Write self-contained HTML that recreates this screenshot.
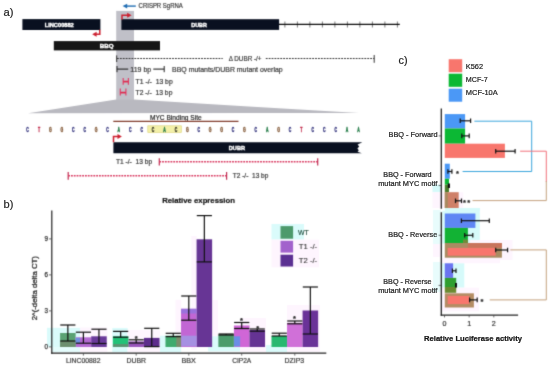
<!DOCTYPE html>
<html><head><meta charset="utf-8"><title>Figure</title>
<style>
html,body{margin:0;padding:0;background:#fff;}
body{width:550px;height:367px;overflow:hidden;font-family:"Liberation Sans",sans-serif;}
svg{display:block;will-change:transform;}
text{font-family:"Liberation Sans",sans-serif;white-space:pre;}
</style></head><body>
<svg width="550" height="367" viewBox="0 0 550 367">
<defs><filter id="soft" x="0" y="0" width="550" height="367" filterUnits="userSpaceOnUse" color-interpolation-filters="sRGB"><feConvolveMatrix order="3" kernelMatrix="0.04 0.2 0.04 0.2 1 0.2 0.04 0.2 0.04" edgeMode="duplicate" preserveAlpha="true"/></filter></defs>
<g filter="url(#soft)">
<rect x="0" y="0" width="550" height="367" fill="#fff"/>
<rect x="116.20" y="10.90" width="17.80" height="89.10" fill="#c0c0c8" />
<polygon points="116.2,99.6 134.0,99.6 359,113.0 28,113.3 " fill="#b9b9c0"/>
<line x1="126.00" y1="6.10" x2="135.80" y2="6.10" stroke="#1f6db3" stroke-width="1.4" />
<polygon points="122.6,6.1 127.2,3.8 127.2,8.4" fill="#1f6db3"/>
<text x="138.60" y="7.80" font-size="6.3" fill="#3a3a3a" text-anchor="start" textLength="44.20" lengthAdjust="spacingAndGlyphs"  stroke="#3a3a3a" stroke-width="0.2">CRISPR SgRNA</text>
<rect x="22.40" y="19.10" width="78.00" height="10.90" fill="#091020" />
<text x="44.70" y="26.70" font-size="5.6" fill="#fff" text-anchor="start" font-weight="bold" textLength="29.10" lengthAdjust="spacingAndGlyphs"  stroke="#fff" stroke-width="0.4">LINC00882</text>
<polyline points="99.8,29.8 99.8,34.3 95.5,34.3" fill="none" stroke="#cc1f2e" stroke-width="1.5"/>
<polygon points="92.2,34.3 96.6,31.8 96.6,36.8" fill="#cc1f2e"/>
<rect x="53.80" y="41.10" width="106.20" height="9.30" fill="#161616" />
<text x="99.80" y="47.70" font-size="6.0" fill="#fff" text-anchor="start" font-weight="bold" textLength="13.80" lengthAdjust="spacingAndGlyphs"  stroke="#fff" stroke-width="0.4">BBQ</text>
<rect x="121.40" y="19.20" width="157.70" height="10.70" fill="#091020" />
<text x="191.30" y="26.70" font-size="5.6" fill="#fff" text-anchor="start" font-weight="bold" textLength="15.60" lengthAdjust="spacingAndGlyphs"  stroke="#fff" stroke-width="0.4">DUBR</text>
<polyline points="122.0,19.5 122.0,15.2 128.0,15.2" fill="none" stroke="#cc1f2e" stroke-width="1.5"/>
<polygon points="131.6,15.2 127.2,12.7 127.2,17.7" fill="#cc1f2e"/>
<line x1="284.90" y1="21.50" x2="284.90" y2="27.50" stroke="#7a7a7a" stroke-width="1.0" />
<line x1="297.40" y1="21.50" x2="297.40" y2="27.50" stroke="#7a7a7a" stroke-width="1.0" />
<line x1="309.90" y1="21.50" x2="309.90" y2="27.50" stroke="#7a7a7a" stroke-width="1.0" />
<line x1="322.40" y1="21.50" x2="322.40" y2="27.50" stroke="#7a7a7a" stroke-width="1.0" />
<line x1="334.90" y1="21.50" x2="334.90" y2="27.50" stroke="#7a7a7a" stroke-width="1.0" />
<line x1="347.40" y1="21.50" x2="347.40" y2="27.50" stroke="#7a7a7a" stroke-width="1.0" />
<line x1="359.90" y1="21.50" x2="359.90" y2="27.50" stroke="#7a7a7a" stroke-width="1.0" />
<line x1="372.40" y1="21.50" x2="372.40" y2="27.50" stroke="#7a7a7a" stroke-width="1.0" />
<line x1="384.90" y1="21.50" x2="384.90" y2="27.50" stroke="#7a7a7a" stroke-width="1.0" />
<line x1="397.40" y1="21.50" x2="397.40" y2="27.50" stroke="#7a7a7a" stroke-width="1.0" />
<line x1="279.00" y1="24.30" x2="399.80" y2="24.30" stroke="#0a0a0a" stroke-width="1.15" />
<line x1="116.70" y1="55.40" x2="116.70" y2="62.00" stroke="#333" stroke-width="1.0" />
<line x1="117.00" y1="58.50" x2="222.70" y2="58.50" stroke="#333" stroke-width="1.1" stroke-dasharray="1.8,1.1"/>
<text x="228.70" y="60.80" font-size="6.5" fill="#3a3a3a" text-anchor="start" textLength="32.80" lengthAdjust="spacingAndGlyphs"  stroke="#3a3a3a" stroke-width="0.2">&#916; DUBR -/+</text>
<line x1="265.80" y1="58.50" x2="374.20" y2="58.50" stroke="#333" stroke-width="1.1" stroke-dasharray="1.8,1.1"/>
<line x1="374.20" y1="55.00" x2="374.20" y2="62.80" stroke="#333" stroke-width="1.0" />
<line x1="117.00" y1="66.00" x2="117.00" y2="72.20" stroke="#222" stroke-width="1.0" />
<line x1="117.00" y1="69.10" x2="128.20" y2="69.10" stroke="#222" stroke-width="1.1" />
<text x="130.30" y="72.00" font-size="6.4" fill="#3a3a3a" text-anchor="start" textLength="20.90" lengthAdjust="spacingAndGlyphs"  stroke="#3a3a3a" stroke-width="0.2">119 bp</text>
<line x1="153.30" y1="69.10" x2="164.20" y2="69.10" stroke="#222" stroke-width="1.1" />
<line x1="164.20" y1="66.00" x2="164.20" y2="72.20" stroke="#222" stroke-width="1.0" />
<text x="172.10" y="72.00" font-size="6.5" fill="#3a3a3a" text-anchor="start" textLength="110.60" lengthAdjust="spacingAndGlyphs"  stroke="#3a3a3a" stroke-width="0.2">BBQ mutants/DUBR mutant overlap</text>
<line x1="123.20" y1="78.00" x2="123.20" y2="84.80" stroke="#e0406a" stroke-width="1.2" />
<line x1="128.40" y1="78.00" x2="128.40" y2="84.80" stroke="#e0406a" stroke-width="1.2" />
<line x1="123.20" y1="81.60" x2="128.40" y2="81.60" stroke="#e0284c" stroke-width="1.7" />
<line x1="120.30" y1="88.60" x2="120.30" y2="95.60" stroke="#e0406a" stroke-width="1.2" />
<line x1="125.90" y1="88.60" x2="125.90" y2="95.60" stroke="#e0406a" stroke-width="1.2" />
<line x1="120.30" y1="92.60" x2="125.90" y2="92.60" stroke="#e0284c" stroke-width="1.7" />
<text x="135.60" y="83.60" font-size="6.8" fill="#3a3a3a" text-anchor="start" textLength="37.10" lengthAdjust="spacingAndGlyphs"  stroke="#3a3a3a" stroke-width="0.2">T1 -/-  13 bp</text>
<text x="135.60" y="95.30" font-size="6.8" fill="#3a3a3a" text-anchor="start" textLength="36.80" lengthAdjust="spacingAndGlyphs"  stroke="#3a3a3a" stroke-width="0.2">T2 -/-  13 bp</text>
<text x="149.90" y="119.50" font-size="6.9" fill="#262626" text-anchor="start" textLength="51.90" lengthAdjust="spacingAndGlyphs"  stroke="#262626" stroke-width="0.2">MYC Binding Site</text>
<line x1="113.30" y1="121.40" x2="238.50" y2="121.40" stroke="#823c2c" stroke-width="1.3" />
<rect x="147.8" y="125.8" width="33.6" height="6.8" fill="#f3f0a8" stroke="#dcd27a" stroke-width="0.6"/>
<text x="0" y="0" font-size="7" font-weight="bold" fill="#35357e" stroke="#35357e" stroke-width="0.5" text-anchor="middle" transform="translate(27.60,131.8) scale(0.5,1)">C</text>
<text x="0" y="0" font-size="7" font-weight="bold" fill="#c02848" stroke="#c02848" stroke-width="0.5" text-anchor="middle" transform="translate(39.01,131.8) scale(0.5,1)">T</text>
<text x="0" y="0" font-size="7" font-weight="bold" fill="#8a6242" stroke="#8a6242" stroke-width="0.5" text-anchor="middle" transform="translate(50.42,131.8) scale(0.5,1)">G</text>
<text x="0" y="0" font-size="7" font-weight="bold" fill="#8a6242" stroke="#8a6242" stroke-width="0.5" text-anchor="middle" transform="translate(61.83,131.8) scale(0.5,1)">G</text>
<text x="0" y="0" font-size="7" font-weight="bold" fill="#35357e" stroke="#35357e" stroke-width="0.5" text-anchor="middle" transform="translate(73.24,131.8) scale(0.5,1)">C</text>
<text x="0" y="0" font-size="7" font-weight="bold" fill="#35357e" stroke="#35357e" stroke-width="0.5" text-anchor="middle" transform="translate(84.65,131.8) scale(0.5,1)">C</text>
<text x="0" y="0" font-size="7" font-weight="bold" fill="#8a6242" stroke="#8a6242" stroke-width="0.5" text-anchor="middle" transform="translate(96.06,131.8) scale(0.5,1)">G</text>
<text x="0" y="0" font-size="7" font-weight="bold" fill="#35357e" stroke="#35357e" stroke-width="0.5" text-anchor="middle" transform="translate(107.47,131.8) scale(0.5,1)">C</text>
<text x="0" y="0" font-size="7" font-weight="bold" fill="#217a45" stroke="#217a45" stroke-width="0.5" text-anchor="middle" transform="translate(118.88,131.8) scale(0.5,1)">A</text>
<text x="0" y="0" font-size="7" font-weight="bold" fill="#35357e" stroke="#35357e" stroke-width="0.5" text-anchor="middle" transform="translate(130.29,131.8) scale(0.5,1)">C</text>
<text x="0" y="0" font-size="7" font-weight="bold" fill="#35357e" stroke="#35357e" stroke-width="0.5" text-anchor="middle" transform="translate(141.70,131.8) scale(0.5,1)">C</text>
<text x="0" y="0" font-size="7" font-weight="bold" fill="#3a3a2a" stroke="#3a3a2a" stroke-width="0.5" text-anchor="middle" transform="translate(153.11,131.8) scale(0.5,1)">C</text>
<text x="0" y="0" font-size="7" font-weight="bold" fill="#217a45" stroke="#217a45" stroke-width="0.5" text-anchor="middle" transform="translate(164.52,131.8) scale(0.5,1)">A</text>
<text x="0" y="0" font-size="7" font-weight="bold" fill="#3a3a2a" stroke="#3a3a2a" stroke-width="0.5" text-anchor="middle" transform="translate(175.93,131.8) scale(0.5,1)">C</text>
<text x="0" y="0" font-size="7" font-weight="bold" fill="#8a6242" stroke="#8a6242" stroke-width="0.5" text-anchor="middle" transform="translate(187.34,131.8) scale(0.5,1)">G</text>
<text x="0" y="0" font-size="7" font-weight="bold" fill="#35357e" stroke="#35357e" stroke-width="0.5" text-anchor="middle" transform="translate(198.75,131.8) scale(0.5,1)">C</text>
<text x="0" y="0" font-size="7" font-weight="bold" fill="#8a6242" stroke="#8a6242" stroke-width="0.5" text-anchor="middle" transform="translate(210.16,131.8) scale(0.5,1)">G</text>
<text x="0" y="0" font-size="7" font-weight="bold" fill="#8a6242" stroke="#8a6242" stroke-width="0.5" text-anchor="middle" transform="translate(221.57,131.8) scale(0.5,1)">G</text>
<text x="0" y="0" font-size="7" font-weight="bold" fill="#35357e" stroke="#35357e" stroke-width="0.5" text-anchor="middle" transform="translate(232.98,131.8) scale(0.5,1)">C</text>
<text x="0" y="0" font-size="7" font-weight="bold" fill="#8a6242" stroke="#8a6242" stroke-width="0.5" text-anchor="middle" transform="translate(244.39,131.8) scale(0.5,1)">G</text>
<text x="0" y="0" font-size="7" font-weight="bold" fill="#35357e" stroke="#35357e" stroke-width="0.5" text-anchor="middle" transform="translate(255.80,131.8) scale(0.5,1)">C</text>
<text x="0" y="0" font-size="7" font-weight="bold" fill="#217a45" stroke="#217a45" stroke-width="0.5" text-anchor="middle" transform="translate(267.21,131.8) scale(0.5,1)">A</text>
<text x="0" y="0" font-size="7" font-weight="bold" fill="#8a6242" stroke="#8a6242" stroke-width="0.5" text-anchor="middle" transform="translate(278.62,131.8) scale(0.5,1)">G</text>
<text x="0" y="0" font-size="7" font-weight="bold" fill="#35357e" stroke="#35357e" stroke-width="0.5" text-anchor="middle" transform="translate(290.03,131.8) scale(0.5,1)">C</text>
<text x="0" y="0" font-size="7" font-weight="bold" fill="#c02848" stroke="#c02848" stroke-width="0.5" text-anchor="middle" transform="translate(301.44,131.8) scale(0.5,1)">T</text>
<text x="0" y="0" font-size="7" font-weight="bold" fill="#35357e" stroke="#35357e" stroke-width="0.5" text-anchor="middle" transform="translate(312.85,131.8) scale(0.5,1)">C</text>
<text x="0" y="0" font-size="7" font-weight="bold" fill="#35357e" stroke="#35357e" stroke-width="0.5" text-anchor="middle" transform="translate(324.26,131.8) scale(0.5,1)">C</text>
<text x="0" y="0" font-size="7" font-weight="bold" fill="#35357e" stroke="#35357e" stroke-width="0.5" text-anchor="middle" transform="translate(335.67,131.8) scale(0.5,1)">C</text>
<text x="0" y="0" font-size="7" font-weight="bold" fill="#217a45" stroke="#217a45" stroke-width="0.5" text-anchor="middle" transform="translate(347.08,131.8) scale(0.5,1)">A</text>
<text x="0" y="0" font-size="7" font-weight="bold" fill="#217a45" stroke="#217a45" stroke-width="0.5" text-anchor="middle" transform="translate(358.49,131.8) scale(0.5,1)">A</text>
<polygon points="113.4,142.2 362.4,142.2 357.6,144.6 359.2,146.5 357.4,148.4 358.8,150.2 357.6,151.8 361.8,153.2 113.4,153.2" fill="#091020"/>
<text x="228.80" y="149.90" font-size="5.6" fill="#fff" text-anchor="start" font-weight="bold" textLength="16.20" lengthAdjust="spacingAndGlyphs"  stroke="#fff" stroke-width="0.4">DUBR</text>
<polyline points="113.5,142.3 113.5,136.4 118.2,136.4" fill="none" stroke="#cc1f2e" stroke-width="1.5"/>
<polygon points="121.9,136.4 117.5,133.9 117.5,138.9" fill="#cc1f2e"/>
<text x="116.00" y="164.10" font-size="6.6" fill="#3a3a3a" text-anchor="start" textLength="36.10" lengthAdjust="spacingAndGlyphs"  stroke="#3a3a3a" stroke-width="0.2">T1 -/-  13 bp</text>
<line x1="159.30" y1="158.30" x2="159.30" y2="165.50" stroke="#c02a50" stroke-width="1.2" />
<line x1="159.30" y1="161.70" x2="317.70" y2="161.70" stroke="#d8365e" stroke-width="1.4" stroke-dasharray="1.8,1"/>
<line x1="317.70" y1="158.30" x2="317.70" y2="165.50" stroke="#c02a50" stroke-width="1.2" />
<line x1="68.20" y1="172.00" x2="68.20" y2="179.80" stroke="#c02a50" stroke-width="1.2" />
<line x1="68.20" y1="175.80" x2="226.60" y2="175.80" stroke="#d8365e" stroke-width="1.4" stroke-dasharray="1.8,1"/>
<line x1="226.60" y1="172.00" x2="226.60" y2="179.80" stroke="#c02a50" stroke-width="1.2" />
<text x="232.70" y="178.20" font-size="6.6" fill="#3a3a3a" text-anchor="start" textLength="35.70" lengthAdjust="spacingAndGlyphs"  stroke="#3a3a3a" stroke-width="0.2">T2 -/-  13 bp</text>
<text x="162.20" y="202.90" font-size="7.7" fill="#111" text-anchor="start" font-weight="bold" textLength="72.70" lengthAdjust="spacingAndGlyphs"  stroke="#111" stroke-width="0.2">Relative expression</text>
<rect x="47.00" y="327.80" width="33.00" height="19.20" fill="#dafbfb" />
<rect x="80.00" y="327.50" width="27.30" height="19.50" fill="#fef5fe" />
<rect x="52.00" y="347.00" width="28.00" height="5.20" fill="#e4fcfc" />
<rect x="80.00" y="347.00" width="27.30" height="5.20" fill="#fef5fe" />
<rect x="112.30" y="328.00" width="15.30" height="24.20" fill="#dafbfb" />
<rect x="127.60" y="330.00" width="32.40" height="22.20" fill="#fef5fe" />
<rect x="160.00" y="335.70" width="21.20" height="16.50" fill="#dafbfb" />
<rect x="175.50" y="299.80" width="5.70" height="35.90" fill="#fef5fe" />
<rect x="191.30" y="236.00" width="5.40" height="114.00" fill="#fef5fe" />
<rect x="212.50" y="300.00" width="5.50" height="50.00" fill="#fef5fe" />
<rect x="208.10" y="336.30" width="32.00" height="15.10" fill="#dafbfb" />
<rect x="240.10" y="318.00" width="25.90" height="34.00" fill="#fef5fe" />
<rect x="266.00" y="345.00" width="21.00" height="7.00" fill="#dafbfb" />
<rect x="287.00" y="305.00" width="33.00" height="47.00" fill="#fef5fe" />
<rect x="60.08" y="333.00" width="15.55" height="14.00" fill="#5aa274" />
<rect x="75.62" y="337.30" width="15.55" height="9.70" fill="#b46ad2" />
<rect x="91.18" y="336.30" width="15.55" height="10.70" fill="#6a3a9a" />
<rect x="112.87" y="336.30" width="15.55" height="10.70" fill="#22c278" />
<rect x="128.42" y="341.40" width="15.55" height="5.60" fill="#9a56bc" />
<rect x="143.97" y="337.90" width="15.55" height="9.10" fill="#5e2d8c" />
<rect x="165.48" y="335.70" width="15.55" height="11.30" fill="#3fab6e" />
<rect x="181.03" y="308.80" width="15.55" height="38.20" fill="#c266d4" />
<rect x="196.58" y="239.30" width="15.55" height="107.70" fill="#673595" />
<rect x="218.38" y="334.50" width="15.55" height="12.50" fill="#4b9c6c" />
<rect x="233.93" y="325.50" width="15.55" height="21.50" fill="#d066d6" />
<rect x="249.47" y="330.00" width="15.55" height="17.00" fill="#653393" />
<rect x="271.48" y="336.00" width="15.55" height="11.00" fill="#28b870" />
<rect x="287.03" y="322.90" width="15.55" height="24.10" fill="#d070d8" />
<rect x="302.58" y="310.50" width="15.55" height="36.50" fill="#6a3298" />
<rect x="60.15" y="341.00" width="15.55" height="6.00" fill="#6c8f6f" />
<rect x="112.95" y="344.00" width="15.55" height="3.00" fill="#5a9472" />
<rect x="176.30" y="335.70" width="4.90" height="11.30" fill="#7c8c6c" />
<rect x="75.60" y="337.90" width="4.40" height="5.40" fill="#6f8fe0" />
<rect x="234.00" y="336.30" width="6.10" height="10.10" fill="#6a8ee6" />
<rect x="181.20" y="335.70" width="15.50" height="10.60" fill="#a690e2" />
<rect x="181.20" y="308.80" width="15.50" height="4.70" fill="#9a72dc" />
<line x1="60.28" y1="325.00" x2="75.42" y2="325.00" stroke="#111" stroke-width="1.2" />
<line x1="60.28" y1="341.00" x2="75.42" y2="341.00" stroke="#111" stroke-width="1.2" />
<line x1="67.85" y1="325.00" x2="67.85" y2="341.00" stroke="#111" stroke-width="1.2" />
<line x1="75.83" y1="332.20" x2="90.97" y2="332.20" stroke="#111" stroke-width="1.2" />
<line x1="75.83" y1="343.20" x2="90.97" y2="343.20" stroke="#111" stroke-width="1.2" />
<line x1="83.40" y1="332.20" x2="83.40" y2="343.20" stroke="#111" stroke-width="1.2" />
<line x1="91.38" y1="329.20" x2="106.53" y2="329.20" stroke="#111" stroke-width="1.2" />
<line x1="91.38" y1="343.50" x2="106.53" y2="343.50" stroke="#111" stroke-width="1.2" />
<line x1="98.95" y1="329.20" x2="98.95" y2="343.50" stroke="#111" stroke-width="1.2" />
<line x1="113.07" y1="331.40" x2="128.22" y2="331.40" stroke="#111" stroke-width="1.2" />
<line x1="113.07" y1="337.20" x2="128.22" y2="337.20" stroke="#111" stroke-width="1.2" />
<line x1="120.65" y1="331.40" x2="120.65" y2="337.20" stroke="#111" stroke-width="1.2" />
<line x1="128.62" y1="339.80" x2="143.78" y2="339.80" stroke="#111" stroke-width="1.2" />
<line x1="128.62" y1="343.00" x2="143.78" y2="343.00" stroke="#111" stroke-width="1.2" />
<line x1="136.20" y1="339.80" x2="136.20" y2="343.00" stroke="#111" stroke-width="1.2" />
<line x1="144.17" y1="328.30" x2="159.33" y2="328.30" stroke="#111" stroke-width="1.2" />
<line x1="144.17" y1="346.60" x2="159.33" y2="346.60" stroke="#111" stroke-width="1.2" />
<line x1="151.75" y1="328.30" x2="151.75" y2="346.60" stroke="#111" stroke-width="1.2" />
<line x1="165.68" y1="333.30" x2="180.83" y2="333.30" stroke="#111" stroke-width="1.2" />
<line x1="165.68" y1="336.60" x2="180.83" y2="336.60" stroke="#111" stroke-width="1.2" />
<line x1="173.25" y1="333.30" x2="173.25" y2="336.60" stroke="#111" stroke-width="1.2" />
<line x1="181.23" y1="296.00" x2="196.38" y2="296.00" stroke="#111" stroke-width="1.2" />
<line x1="181.23" y1="320.20" x2="196.38" y2="320.20" stroke="#111" stroke-width="1.2" />
<line x1="188.80" y1="296.00" x2="188.80" y2="320.20" stroke="#111" stroke-width="1.2" />
<line x1="196.78" y1="215.60" x2="211.93" y2="215.60" stroke="#111" stroke-width="1.2" />
<line x1="196.78" y1="261.90" x2="211.93" y2="261.90" stroke="#111" stroke-width="1.2" />
<line x1="204.35" y1="215.60" x2="204.35" y2="261.90" stroke="#111" stroke-width="1.2" />
<line x1="218.57" y1="334.00" x2="233.73" y2="334.00" stroke="#111" stroke-width="1.2" />
<line x1="218.57" y1="335.00" x2="233.73" y2="335.00" stroke="#111" stroke-width="1.2" />
<line x1="226.15" y1="334.00" x2="226.15" y2="335.00" stroke="#111" stroke-width="1.2" />
<line x1="234.12" y1="322.50" x2="249.28" y2="322.50" stroke="#111" stroke-width="1.2" />
<line x1="234.12" y1="328.50" x2="249.28" y2="328.50" stroke="#111" stroke-width="1.2" />
<line x1="241.70" y1="322.50" x2="241.70" y2="328.50" stroke="#111" stroke-width="1.2" />
<line x1="249.67" y1="329.00" x2="264.82" y2="329.00" stroke="#111" stroke-width="1.2" />
<line x1="249.67" y1="331.20" x2="264.82" y2="331.20" stroke="#111" stroke-width="1.2" />
<line x1="257.25" y1="329.00" x2="257.25" y2="331.20" stroke="#111" stroke-width="1.2" />
<line x1="271.68" y1="333.20" x2="286.83" y2="333.20" stroke="#111" stroke-width="1.2" />
<line x1="271.68" y1="336.00" x2="286.83" y2="336.00" stroke="#111" stroke-width="1.2" />
<line x1="279.25" y1="333.20" x2="279.25" y2="336.00" stroke="#111" stroke-width="1.2" />
<line x1="287.23" y1="321.00" x2="302.38" y2="321.00" stroke="#111" stroke-width="1.2" />
<line x1="287.23" y1="323.80" x2="302.38" y2="323.80" stroke="#111" stroke-width="1.2" />
<line x1="294.80" y1="321.00" x2="294.80" y2="323.80" stroke="#111" stroke-width="1.2" />
<line x1="302.78" y1="287.00" x2="317.93" y2="287.00" stroke="#111" stroke-width="1.2" />
<line x1="302.78" y1="334.00" x2="317.93" y2="334.00" stroke="#111" stroke-width="1.2" />
<line x1="310.35" y1="287.00" x2="310.35" y2="334.00" stroke="#111" stroke-width="1.2" />
<text x="136.30" y="341.07" font-size="7.5" fill="#2a2a2a" text-anchor="middle" font-weight="bold"  stroke="#2a2a2a" stroke-width="0.25">*</text>
<text x="241.50" y="323.47" font-size="7.5" fill="#2a2a2a" text-anchor="middle" font-weight="bold"  stroke="#2a2a2a" stroke-width="0.25">*</text>
<text x="257.70" y="331.27" font-size="7.5" fill="#2a2a2a" text-anchor="middle" font-weight="bold"  stroke="#2a2a2a" stroke-width="0.25">*</text>
<text x="294.40" y="321.07" font-size="7.5" fill="#2a2a2a" text-anchor="middle" font-weight="bold"  stroke="#2a2a2a" stroke-width="0.25">*</text>
<line x1="51.80" y1="210.40" x2="51.80" y2="353.80" stroke="#222" stroke-width="1.2" />
<line x1="51.20" y1="353.20" x2="326.30" y2="353.20" stroke="#222" stroke-width="1.2" />
<line x1="49.00" y1="346.90" x2="51.80" y2="346.90" stroke="#444" stroke-width="0.8" />
<text x="47.90" y="349.10" font-size="6.3" fill="#333" text-anchor="end"  stroke="#333" stroke-width="0.25">0</text>
<line x1="49.00" y1="310.90" x2="51.80" y2="310.90" stroke="#444" stroke-width="0.8" />
<text x="47.90" y="313.10" font-size="6.3" fill="#333" text-anchor="end"  stroke="#333" stroke-width="0.25">3</text>
<line x1="49.00" y1="274.90" x2="51.80" y2="274.90" stroke="#444" stroke-width="0.8" />
<text x="47.90" y="277.10" font-size="6.3" fill="#333" text-anchor="end"  stroke="#333" stroke-width="0.25">6</text>
<line x1="49.00" y1="238.90" x2="51.80" y2="238.90" stroke="#444" stroke-width="0.8" />
<text x="47.90" y="241.10" font-size="6.3" fill="#333" text-anchor="end"  stroke="#333" stroke-width="0.25">9</text>
<line x1="83.40" y1="353.30" x2="83.40" y2="355.60" stroke="#444" stroke-width="0.8" />
<line x1="136.20" y1="353.30" x2="136.20" y2="355.60" stroke="#444" stroke-width="0.8" />
<line x1="188.80" y1="353.30" x2="188.80" y2="355.60" stroke="#444" stroke-width="0.8" />
<line x1="241.70" y1="353.30" x2="241.70" y2="355.60" stroke="#444" stroke-width="0.8" />
<line x1="294.80" y1="353.30" x2="294.80" y2="355.60" stroke="#444" stroke-width="0.8" />
<text x="65.90" y="363.20" font-size="6.9" fill="#3a3a3a" text-anchor="start" textLength="34.60" lengthAdjust="spacingAndGlyphs"  stroke="#3a3a3a" stroke-width="0.2">LINC00882</text>
<text x="126.40" y="363.20" font-size="6.9" fill="#3a3a3a" text-anchor="start" textLength="19.60" lengthAdjust="spacingAndGlyphs"  stroke="#3a3a3a" stroke-width="0.2">DUBR</text>
<text x="181.50" y="363.20" font-size="6.9" fill="#3a3a3a" text-anchor="start" textLength="14.40" lengthAdjust="spacingAndGlyphs"  stroke="#3a3a3a" stroke-width="0.2">BBX</text>
<text x="232.20" y="363.20" font-size="6.9" fill="#3a3a3a" text-anchor="start" textLength="19.10" lengthAdjust="spacingAndGlyphs"  stroke="#3a3a3a" stroke-width="0.2">CIP2A</text>
<text x="284.50" y="363.20" font-size="6.9" fill="#3a3a3a" text-anchor="start" textLength="19.70" lengthAdjust="spacingAndGlyphs"  stroke="#3a3a3a" stroke-width="0.2">DZIP3</text>
<text x="0" y="0" font-size="7.3" fill="#2e2e2e" stroke="#2e2e2e" stroke-width="0.28" text-anchor="middle" textLength="64.3" lengthAdjust="spacingAndGlyphs" transform="translate(37.0,288.2) rotate(-90)">2^(-delta delta CT)</text>
<rect x="271.50" y="224.00" width="32.50" height="15.60" fill="#dafbfb" />
<rect x="271.50" y="239.60" width="47.50" height="27.70" fill="#fef5fe" />
<rect x="280.50" y="226.10" width="12.60" height="12.60" fill="#4d9a6c" />
<rect x="280.50" y="240.80" width="12.60" height="11.80" fill="#a262cc" />
<rect x="280.50" y="254.70" width="12.60" height="11.80" fill="#5b3092" />
<text x="298.00" y="235.30" font-size="7.1" fill="#123e2c" text-anchor="start" textLength="10.80" lengthAdjust="spacingAndGlyphs"  stroke="#123e2c" stroke-width="0.1">WT</text>
<text x="298.80" y="248.50" font-size="7.1" fill="#333" text-anchor="start" textLength="18.40" lengthAdjust="spacingAndGlyphs"  stroke="#333" stroke-width="0.1">T1 -/-</text>
<text x="298.80" y="262.70" font-size="7.1" fill="#333" text-anchor="start" textLength="18.40" lengthAdjust="spacingAndGlyphs"  stroke="#333" stroke-width="0.1">T2 -/-</text>
<rect x="448.70" y="59.20" width="13.50" height="13.00" fill="#f8766d" />
<rect x="448.70" y="73.70" width="13.50" height="13.10" fill="#0cb834" />
<rect x="448.70" y="88.70" width="13.50" height="13.00" fill="#4b98f6" />
<rect x="432.50" y="184.70" width="8.50" height="7.50" fill="#d6fafa" />
<rect x="432.50" y="192.20" width="30.70" height="15.80" fill="#fef5fe" />
<rect x="445.00" y="208.00" width="35.00" height="3.00" fill="#d6fafa" />
<rect x="433.00" y="210.00" width="8.00" height="34.00" fill="#e8fcfc" />
<rect x="442.20" y="210.70" width="37.60" height="32.80" fill="#d6fafa" />
<rect x="433.00" y="244.00" width="8.00" height="13.00" fill="#fef5fe" />
<rect x="470.00" y="240.00" width="42.50" height="20.00" fill="#fef5fe" />
<rect x="441.00" y="263.20" width="23.30" height="24.50" fill="#d6fafa" />
<rect x="433.00" y="262.00" width="8.00" height="30.00" fill="#e8fcfc" />
<rect x="441.00" y="287.70" width="38.00" height="23.70" fill="#fef5fe" />
<rect x="441.00" y="258.00" width="59.00" height="5.20" fill="#fef5fe" />
<rect x="444.80" y="114.10" width="20.30" height="14.40" fill="#4b98f6" />
<rect x="444.80" y="128.50" width="20.30" height="15.20" fill="#0cb834" />
<rect x="444.80" y="143.70" width="60.10" height="14.20" fill="#f8766d" />
<rect x="444.80" y="163.70" width="5.00" height="15.00" fill="#4b98f6" />
<rect x="444.80" y="178.70" width="4.20" height="6.00" fill="#0cb834" />
<rect x="444.80" y="184.70" width="4.20" height="7.50" fill="#4a7d2c" />
<rect x="444.80" y="192.20" width="13.90" height="15.80" fill="#cf8068" />
<rect x="444.80" y="192.20" width="3.00" height="15.80" fill="#a88a60" />
<rect x="444.80" y="213.50" width="30.60" height="14.40" fill="#5f86f4" />
<rect x="444.80" y="227.90" width="23.10" height="15.10" fill="#12b234" />
<rect x="463.00" y="239.50" width="4.90" height="3.50" fill="#6f8a3a" />
<rect x="444.80" y="243.00" width="57.10" height="14.70" fill="#a98c62" />
<rect x="467.90" y="243.00" width="34.00" height="4.90" fill="#c8745c" />
<rect x="447.60" y="247.90" width="48.10" height="7.80" fill="#f8766d" />
<rect x="444.80" y="263.30" width="8.30" height="14.60" fill="#6a74f0" />
<rect x="444.80" y="277.90" width="11.40" height="9.10" fill="#2f9e30" />
<rect x="444.80" y="287.00" width="11.40" height="5.80" fill="#6a8a30" />
<rect x="444.80" y="293.30" width="29.10" height="14.20" fill="#b48c64" />
<rect x="447.70" y="295.90" width="21.60" height="8.20" fill="#f8766d" />
<line x1="460.20" y1="120.80" x2="470.60" y2="120.80" stroke="#111" stroke-width="1.2" />
<line x1="460.20" y1="118.50" x2="460.20" y2="123.10" stroke="#111" stroke-width="1.2" />
<line x1="470.60" y1="118.50" x2="470.60" y2="123.10" stroke="#111" stroke-width="1.2" />
<line x1="461.80" y1="135.90" x2="469.20" y2="135.90" stroke="#111" stroke-width="1.2" />
<line x1="461.80" y1="133.60" x2="461.80" y2="138.20" stroke="#111" stroke-width="1.2" />
<line x1="469.20" y1="133.60" x2="469.20" y2="138.20" stroke="#111" stroke-width="1.2" />
<line x1="495.70" y1="151.20" x2="515.10" y2="151.20" stroke="#111" stroke-width="1.2" />
<line x1="495.70" y1="148.90" x2="495.70" y2="153.50" stroke="#111" stroke-width="1.2" />
<line x1="515.10" y1="148.90" x2="515.10" y2="153.50" stroke="#111" stroke-width="1.2" />
<line x1="447.90" y1="171.50" x2="451.90" y2="171.50" stroke="#111" stroke-width="1.2" />
<line x1="447.90" y1="169.20" x2="447.90" y2="173.80" stroke="#111" stroke-width="1.2" />
<line x1="451.90" y1="169.20" x2="451.90" y2="173.80" stroke="#111" stroke-width="1.2" />
<line x1="448.40" y1="185.70" x2="449.40" y2="185.70" stroke="#111" stroke-width="1.2" />
<line x1="448.40" y1="183.40" x2="448.40" y2="188.00" stroke="#111" stroke-width="1.2" />
<line x1="449.40" y1="183.40" x2="449.40" y2="188.00" stroke="#111" stroke-width="1.2" />
<line x1="455.50" y1="200.80" x2="461.50" y2="200.80" stroke="#111" stroke-width="1.2" />
<line x1="455.50" y1="198.50" x2="455.50" y2="203.10" stroke="#111" stroke-width="1.2" />
<line x1="461.50" y1="198.50" x2="461.50" y2="203.10" stroke="#111" stroke-width="1.2" />
<line x1="461.40" y1="220.70" x2="489.30" y2="220.70" stroke="#111" stroke-width="1.2" />
<line x1="461.40" y1="218.40" x2="461.40" y2="223.00" stroke="#111" stroke-width="1.2" />
<line x1="489.30" y1="218.40" x2="489.30" y2="223.00" stroke="#111" stroke-width="1.2" />
<line x1="464.70" y1="235.30" x2="472.80" y2="235.30" stroke="#111" stroke-width="1.2" />
<line x1="464.70" y1="233.00" x2="464.70" y2="237.60" stroke="#111" stroke-width="1.2" />
<line x1="472.80" y1="233.00" x2="472.80" y2="237.60" stroke="#111" stroke-width="1.2" />
<line x1="495.70" y1="250.00" x2="507.60" y2="250.00" stroke="#111" stroke-width="1.2" />
<line x1="495.70" y1="247.70" x2="495.70" y2="252.30" stroke="#111" stroke-width="1.2" />
<line x1="507.60" y1="247.70" x2="507.60" y2="252.30" stroke="#111" stroke-width="1.2" />
<line x1="452.40" y1="270.80" x2="456.00" y2="270.80" stroke="#111" stroke-width="1.2" />
<line x1="452.40" y1="268.50" x2="452.40" y2="273.10" stroke="#111" stroke-width="1.2" />
<line x1="456.00" y1="268.50" x2="456.00" y2="273.10" stroke="#111" stroke-width="1.2" />
<line x1="455.60" y1="285.30" x2="456.40" y2="285.30" stroke="#111" stroke-width="1.2" />
<line x1="455.60" y1="283.00" x2="455.60" y2="287.60" stroke="#111" stroke-width="1.2" />
<line x1="456.40" y1="283.00" x2="456.40" y2="287.60" stroke="#111" stroke-width="1.2" />
<line x1="469.60" y1="299.90" x2="477.20" y2="299.90" stroke="#111" stroke-width="1.2" />
<line x1="469.60" y1="297.60" x2="469.60" y2="302.20" stroke="#111" stroke-width="1.2" />
<line x1="477.20" y1="297.60" x2="477.20" y2="302.20" stroke="#111" stroke-width="1.2" />
<text x="457.40" y="175.88" font-size="7.5" fill="#2a2a2a" text-anchor="middle" font-weight="bold"  stroke="#2a2a2a" stroke-width="0.25">*</text>
<text x="464.50" y="205.18" font-size="7.5" fill="#2a2a2a" text-anchor="middle" font-weight="bold"  stroke="#2a2a2a" stroke-width="0.25">*</text>
<text x="468.80" y="205.18" font-size="7.5" fill="#2a2a2a" text-anchor="middle" font-weight="bold"  stroke="#2a2a2a" stroke-width="0.25">*</text>
<text x="481.90" y="304.47" font-size="7.5" fill="#2a2a2a" text-anchor="middle" font-weight="bold"  stroke="#2a2a2a" stroke-width="0.25">*</text>
<polyline points="474.4,121.2 531.7,121.2 531.7,171.5 462.6,171.5" fill="none" stroke="#3aa6dc" stroke-width="1"/>
<polyline points="520.1,151.2 546.3,151.2 546.3,182" fill="none" stroke="#f0707a" stroke-width="1"/>
<polyline points="546.3,181 546.3,200.6 472.5,200.6" fill="none" stroke="#c4a27e" stroke-width="1"/>
<polyline points="510.3,249.9 546.3,249.9 546.3,299.9 489.7,299.9" fill="none" stroke="#c4a27e" stroke-width="1"/>
<line x1="441.30" y1="108.60" x2="441.30" y2="208.80" stroke="#222" stroke-width="1.3" />
<line x1="441.30" y1="212.30" x2="441.30" y2="315.80" stroke="#222" stroke-width="1.3" />
<line x1="440.70" y1="315.20" x2="518.10" y2="315.20" stroke="#222" stroke-width="1.3" />
<line x1="444.50" y1="315.10" x2="444.50" y2="317.40" stroke="#444" stroke-width="0.8" />
<text x="444.50" y="325.70" font-size="7.1" fill="#333" text-anchor="middle"  stroke="#333" stroke-width="0.2">0</text>
<line x1="469.15" y1="315.10" x2="469.15" y2="317.40" stroke="#444" stroke-width="0.8" />
<text x="469.15" y="325.70" font-size="7.1" fill="#333" text-anchor="middle"  stroke="#333" stroke-width="0.2">1</text>
<line x1="493.80" y1="315.10" x2="493.80" y2="317.40" stroke="#444" stroke-width="0.8" />
<text x="493.80" y="325.70" font-size="7.1" fill="#333" text-anchor="middle"  stroke="#333" stroke-width="0.2">2</text>
<line x1="438.60" y1="135.90" x2="441.00" y2="135.90" stroke="#444" stroke-width="0.8" />
<line x1="438.60" y1="185.50" x2="441.00" y2="185.50" stroke="#444" stroke-width="0.8" />
<line x1="438.60" y1="235.30" x2="441.00" y2="235.30" stroke="#444" stroke-width="0.8" />
<line x1="438.60" y1="285.40" x2="441.00" y2="285.40" stroke="#444" stroke-width="0.8" />
</g>
<text x="3.40" y="16.00" font-size="11.5" fill="#222" text-anchor="start" textLength="10.00" lengthAdjust="spacingAndGlyphs"  stroke="#222" stroke-width="0.2">a)</text>
<text x="3.60" y="208.40" font-size="11.5" fill="#222" text-anchor="start" textLength="9.80" lengthAdjust="spacingAndGlyphs"  stroke="#222" stroke-width="0.2">b)</text>
<text x="398.50" y="64.40" font-size="11.5" fill="#222" text-anchor="start" textLength="9.10" lengthAdjust="spacingAndGlyphs"  stroke="#222" stroke-width="0.2">c)</text>
<text x="465.80" y="68.50" font-size="7.3" fill="#222" text-anchor="start" textLength="17.30" lengthAdjust="spacingAndGlyphs"  stroke="#222" stroke-width="0.2">K562</text>
<text x="465.80" y="81.70" font-size="7.3" fill="#222" text-anchor="start" textLength="21.80" lengthAdjust="spacingAndGlyphs"  stroke="#222" stroke-width="0.2">MCF-7</text>
<text x="465.80" y="95.40" font-size="7.3" fill="#222" text-anchor="start" textLength="31.90" lengthAdjust="spacingAndGlyphs"  stroke="#222" stroke-width="0.2">MCF-10A</text>
<text x="388.50" y="137.10" font-size="7.4" fill="#222" text-anchor="start" textLength="49.10" lengthAdjust="spacingAndGlyphs"  stroke="#222" stroke-width="0.22">BBQ - Forward</text>
<text x="383.30" y="176.90" font-size="7.4" fill="#222" text-anchor="start" textLength="48.30" lengthAdjust="spacingAndGlyphs"  stroke="#222" stroke-width="0.22">BBQ - Forward</text>
<text x="378.20" y="186.10" font-size="7.4" fill="#222" text-anchor="start" textLength="59.20" lengthAdjust="spacingAndGlyphs"  stroke="#222" stroke-width="0.22">mutant MYC motif</text>
<text x="388.30" y="237.20" font-size="7.4" fill="#222" text-anchor="start" textLength="48.90" lengthAdjust="spacingAndGlyphs"  stroke="#222" stroke-width="0.22">BBQ - Reverse</text>
<text x="383.30" y="283.50" font-size="7.4" fill="#222" text-anchor="start" textLength="48.30" lengthAdjust="spacingAndGlyphs"  stroke="#222" stroke-width="0.22">BBQ - Reverse</text>
<text x="378.20" y="292.70" font-size="7.4" fill="#222" text-anchor="start" textLength="59.20" lengthAdjust="spacingAndGlyphs"  stroke="#222" stroke-width="0.22">mutant MYC motif</text>
<text x="424.00" y="340.60" font-size="7.4" fill="#111" text-anchor="start" font-weight="bold" textLength="98.00" lengthAdjust="spacingAndGlyphs"  stroke="#111" stroke-width="0.2">Relative Luciferase activity</text>
</svg>
</body></html>
